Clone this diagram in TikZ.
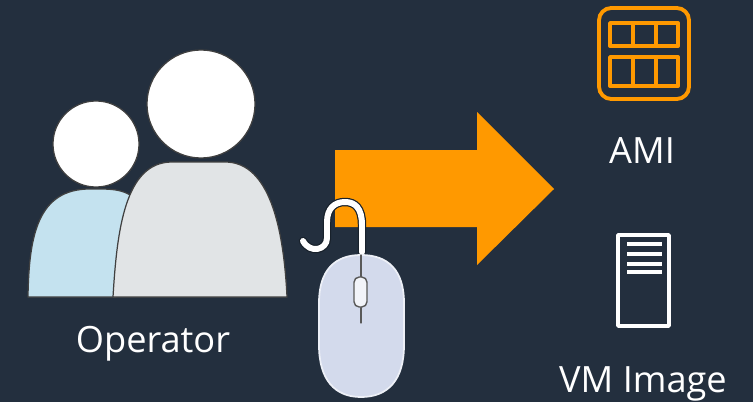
\documentclass[tikz,border=0pt]{standalone}
\usepackage{fontspec}
\setmainfont{Open Sans}
\definecolor{slate}{HTML}{232F3E}
\definecolor{amber}{HTML}{FF9900}
\definecolor{skin}{HTML}{C4E2EF}
\definecolor{shell}{HTML}{E1E4E6}
\definecolor{mousebody}{HTML}{D3DAEC}
\begin{document}
\begin{tikzpicture}[x=0.02cm, y=-0.02cm, line join=round, line cap=round,
	label/.style={text=white, font=\fontsize{20.6pt}{23pt}\selectfont, inner sep=0pt},
	head/.style={fill=white, draw=black!75, line width=0.7pt},
	torso/.style={draw=black!75, line width=0.7pt},
	amiline/.style={draw=amber, line width=2.2pt},
	vmline/.style={draw=white, line width=2pt}]
	\useasboundingbox (0, 0) rectangle (753, 402);
	\fill[slate] (0, 0) rectangle (753, 402);
	% arrow
	\fill[amber] (335, 150) -- (477, 150) -- (477, 112) -- (554, 189) -- (477, 265) -- (477, 227) -- (335, 227) -- cycle;
	% operator
	\draw[torso, fill=skin] (28, 297) .. controls (29, 235) and (38, 189) .. (90, 189) -- (100, 189) .. controls (112, 189) and (122, 190) .. (130, 195) -- (116, 297) -- cycle;
	\draw[torso, fill=shell] (113, 297) .. controls (117, 230) and (125, 162) .. (172, 162) -- (225, 162) .. controls (265, 162) and (283, 215) .. (287, 297) -- cycle;
	\draw[head] (96, 144) circle (43);
	\draw[head] (201, 104) circle (54);
	% mouse
	\draw[slate!70!black, line width=4.8pt] (362, 252) -- (362, 225) .. controls (362, 208) and (355, 202) .. (345, 202) .. controls (335, 202) and (327, 208) .. (327, 222) -- (327, 238) .. controls (327, 250) and (310, 254) .. (303, 241);
	\draw[white, line width=3.4pt] (362, 252) -- (362, 225) .. controls (362, 208) and (355, 202) .. (345, 202) .. controls (335, 202) and (327, 208) .. (327, 222) -- (327, 238) .. controls (327, 250) and (310, 254) .. (303, 241);
	\draw[draw=white!60!mousebody, fill=mousebody, line width=1pt] (319, 303) .. controls (319, 270) and (335, 255) .. (361, 255) .. controls (388, 255) and (404, 270) .. (404, 303) -- (404, 345) .. controls (404, 380) and (388, 397) .. (361, 397) .. controls (335, 397) and (319, 380) .. (319, 345) -- cycle;
	\draw[black!65, line width=0.7pt] (361, 255) -- (361, 323);
	\draw[draw=black!65, fill=white!70!mousebody, line width=0.8pt, rounded corners=3pt] (354, 277) rectangle (367, 307);
	% ami
	\draw[amiline, rounded corners=7pt] (599, 8) rectangle (689, 99);
	\draw[amiline] (610, 23) rectangle (678, 46);
	\draw[amiline] (610, 57) rectangle (678, 86);
	\foreach \x in {633, 656} \draw[amiline] (\x, 23) -- (\x, 46) (\x, 57) -- (\x, 86);
	% vm image
	\draw[vmline] (618, 235) rectangle (669, 326);
	\foreach \y in {244, 254, 264, 272} \draw[vmline, line cap=butt] (627, \y) -- (662, \y);
	\node[label] (operator) at (153, 344) {Operator};
	\node[label] (ami) at (642, 151) {AMI};
	\node[label] (vmimage) at (643, 384) {VM Image};
\end{tikzpicture}
\end{document}
